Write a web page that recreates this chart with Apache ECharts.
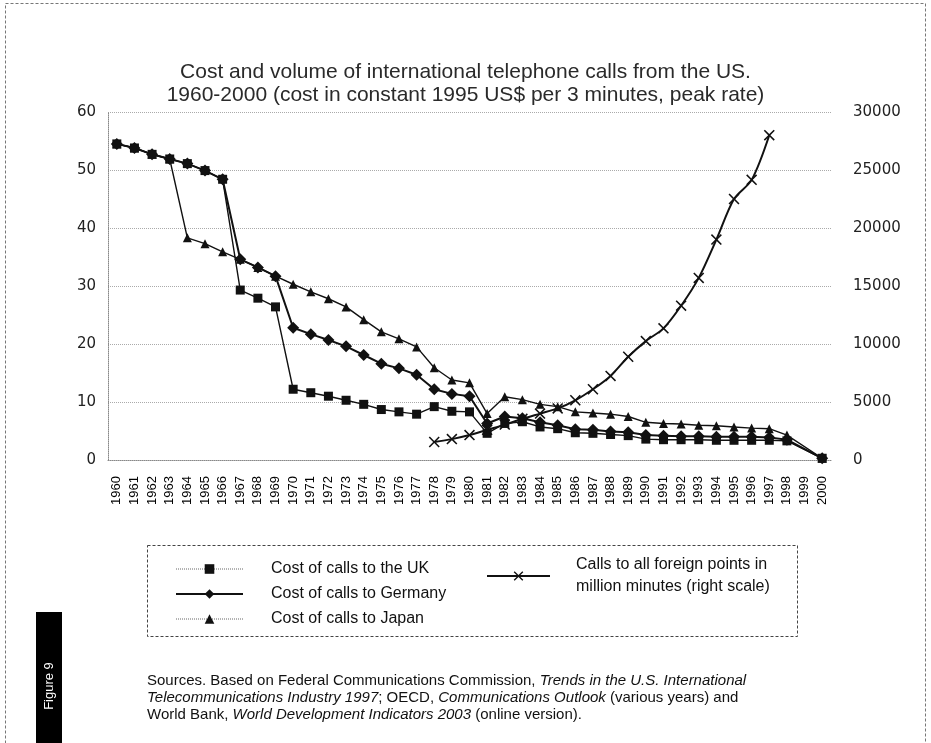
<!DOCTYPE html>
<html>
<head>
<meta charset="utf-8">
<script src="https://cdn.jsdelivr.net/npm/echarts@6/dist/echarts.min.js"></script>
<style>
  html, body { margin: 0; padding: 0; background: #fff; }
  #chart { width: 931px; height: 743px; }
</style>
</head>
<body>
<div id="chart"></div>
<script>
const years = ['1960','1961','1962','1963','1964','1965','1966','1967','1968','1969',
  '1970','1971','1972','1973','1974','1975','1976','1977','1978','1979',
  '1980','1981','1982','1983','1984','1985','1986','1987','1988','1989',
  '1990','1991','1992','1993','1994','1995','1996','1997','1998','1999','2000'];

// cost in constant 1995 US$ per 3 minutes (left scale)
const costUK = [54.5, 53.8, 52.7, 51.9, 51.1, 49.9, 48.4, 29.3, 27.9, 26.4,
  12.2, 11.6, 11.0, 10.3, 9.6, 8.7, 8.3, 7.9, 9.2, 8.4,
  8.3, 4.6, 6.3, 6.6, 5.7, 5.4, 4.7, 4.6, 4.4, 4.2,
  3.6, 3.5, 3.5, 3.5, 3.4, 3.4, 3.4, 3.4, 3.3, null, 0.3];
const costGermany = [54.5, 53.8, 52.7, 51.9, 51.1, 49.9, 48.4, 34.6, 33.2, 31.7,
  22.8, 21.7, 20.7, 19.6, 18.1, 16.6, 15.8, 14.7, 12.2, 11.4,
  11.0, 6.3, 7.5, 7.2, 6.5, 6.0, 5.3, 5.2, 4.9, 4.8,
  4.3, 4.2, 4.1, 4.1, 4.0, 4.0, 4.0, 3.9, 3.5, null, 0.3];
const costJapan = [54.5, 53.8, 52.7, 51.9, 38.3, 37.3, 35.9, 34.6, 33.2, 31.7,
  30.3, 29.0, 27.8, 26.4, 24.2, 22.1, 20.9, 19.5, 15.9, 13.8,
  13.3, 8.0, 10.9, 10.4, 9.6, 9.2, 8.3, 8.1, 7.9, 7.5,
  6.5, 6.3, 6.2, 6.0, 5.9, 5.7, 5.5, 5.4, 4.3, null, 0.3];

// calls to all foreign points, million minutes (right scale)
const callsMinutes = [null, null, null, null, null, null, null, null, null, null,
  null, null, null, null, null, null, null, null, 1550, 1800,
  2150, 2600, 3050, 3550, 4000, 4450, 5150, 6100, 7250, 8900,
  10250, 11350, 13300, 15700, 19000, 22500, 24150, 28000, null, null, null];

const leftTicks = { min: 0, max: 60, interval: 10 };
const rightTicks = { min: 0, max: 30000, interval: 5000 };

const crossPath = 'path://M0,1L1,0L5,4L9,0L10,1L6,5L10,9L9,10L5,6L1,10L0,9L4,5Z';
const ink = '#111';
const legendFont = { fontFamily: 'Liberation Sans', fontSize: 16, color: ink };

const chart = echarts.init(document.getElementById('chart'));
chart.setOption({
  backgroundColor: '#fff',
  animation: false,
  title: {
    text: 'Cost and volume of international telephone calls from the US.\n1960-2000 (cost in constant 1995 US$ per 3 minutes, peak rate)',
    left: 'center',
    top: 56,
    textStyle: {
      fontFamily: 'Liberation Sans',
      fontSize: 21,
      fontWeight: 'normal',
      color: '#2a2a2a',
      lineHeight: 23
    }
  },
  grid: { left: 108, right: 100, top: 112, bottom: 283 },
  legend: [
    {
      data: [
        { name: 'Cost of calls to the UK', lineStyle: { type: 'dotted', color: '#666', width: 1 } },
        { name: 'Cost of calls to Germany', lineStyle: { width: 2 } },
        { name: 'Cost of calls to Japan', lineStyle: { type: 'dotted', color: '#666', width: 1 } }
      ],
      orient: 'vertical',
      left: 170,
      top: 555,
      itemWidth: 67,
      itemHeight: 12,
      itemGap: 7,
      textStyle: Object.assign({ lineHeight: 18, padding: [0, 0, 0, 23] }, legendFont)
    },
    {
      data: ['Calls to all foreign points in million minutes (right scale)'],
      left: 481,
      top: 538,
      itemWidth: 63,
      itemHeight: 12,
      formatter: () => 'Calls to all foreign points in\nmillion minutes (right scale)',
      textStyle: Object.assign({ lineHeight: 22, padding: [22, 0, 0, 21] }, legendFont)
    }
  ],
  xAxis: {
    type: 'category',
    data: years,
    boundaryGap: true,
    axisTick: { show: false },
    axisLine: { show: true, lineStyle: { color: '#888', type: 'dotted', width: 1 } },
    axisLabel: {
      interval: 0,
      rotate: 90,
      margin: 16,
      fontFamily: 'Liberation Sans',
      fontSize: 13,
      color: '#000'
    }
  },
  yAxis: [
    {
      type: 'value',
      min: leftTicks.min, max: leftTicks.max, interval: leftTicks.interval,
      axisLine: { show: true, lineStyle: { color: '#888', type: 'dotted', width: 1 } },
      axisTick: { show: false },
      splitLine: { show: true, lineStyle: { color: '#aaa', type: 'dotted', width: 1 } },
      axisLabel: { margin: 12, fontFamily: 'DejaVu Sans', fontSize: 15, color: '#222' }
    },
    {
      type: 'value',
      min: rightTicks.min, max: rightTicks.max, interval: rightTicks.interval,
      position: 'right',
      axisLine: { show: false },
      axisTick: { show: false },
      splitLine: { show: false },
      axisLabel: {
        margin: 22, fontFamily: 'DejaVu Sans', fontSize: 15, color: '#222',
        formatter: v => String(v)
      }
    }
  ],
  series: [
    {
      name: 'Cost of calls to the UK',
      type: 'line',
      data: costUK,
      connectNulls: true,
      symbol: 'rect',
      symbolSize: 9,
      lineStyle: { color: ink, width: 1.4 },
      itemStyle: { color: ink },
      z: 3
    },
    {
      name: 'Cost of calls to Germany',
      type: 'line',
      data: costGermany,
      connectNulls: true,
      symbol: 'diamond',
      symbolSize: 12,
      lineStyle: { color: ink, width: 2 },
      itemStyle: { color: ink },
      z: 4
    },
    {
      name: 'Cost of calls to Japan',
      type: 'line',
      data: costJapan,
      connectNulls: true,
      symbol: 'triangle',
      symbolSize: 9,
      lineStyle: { color: ink, width: 1.4 },
      itemStyle: { color: ink },
      z: 2
    },
    {
      name: 'Calls to all foreign points in million minutes (right scale)',
      type: 'line',
      yAxisIndex: 1,
      data: callsMinutes,
      smooth: 0.3,
      symbol: crossPath,
      symbolSize: 11,
      lineStyle: { color: ink, width: 2 },
      itemStyle: { color: ink },
      z: 5
    }
  ],
  graphic: [
    {
      type: 'rect',
      shape: { x: 5.5, y: 3.5, width: 920, height: 745 },
      style: { fill: 'none', stroke: '#777', lineWidth: 1, lineDash: [3, 2] },
      silent: true
    },
    {
      type: 'rect',
      shape: { x: 147.5, y: 545.5, width: 650, height: 91 },
      style: { fill: 'none', stroke: '#444', lineWidth: 1, lineDash: [3, 2] },
      silent: true
    },
    {
      type: 'text',
      left: 147,
      top: 673,
      style: {
        text: '{n|Sources. Based on Federal Communications Commission, }{i|Trends in the U.S. International}\n' +
              '{i|Telecommunications Industry 1997}{n|; OECD, }{i|Communications Outlook}{n| (various years) and}\n' +
              '{n|World Bank, }{i|World Development Indicators 2003}{n| (online version).}',
        rich: {
          n: { fontFamily: 'Liberation Sans', fontSize: 15, fill: ink, lineHeight: 17 },
          i: { fontFamily: 'Liberation Sans', fontSize: 15, fontStyle: 'italic', fill: ink, lineHeight: 17 }
        }
      },
      silent: true
    },
    {
      type: 'rect',
      shape: { x: 36, y: 612, width: 26, height: 140 },
      style: { fill: '#000' },
      silent: true
    },
    {
      type: 'text',
      x: 49,
      y: 686,
      rotation: Math.PI / 2,
      style: {
        text: 'Figure 9',
        fontFamily: 'Liberation Sans',
        fontSize: 13,
        fill: '#fff',
        align: 'center',
        verticalAlign: 'middle'
      },
      silent: true
    }
  ]
});
</script>
</body>
</html>
